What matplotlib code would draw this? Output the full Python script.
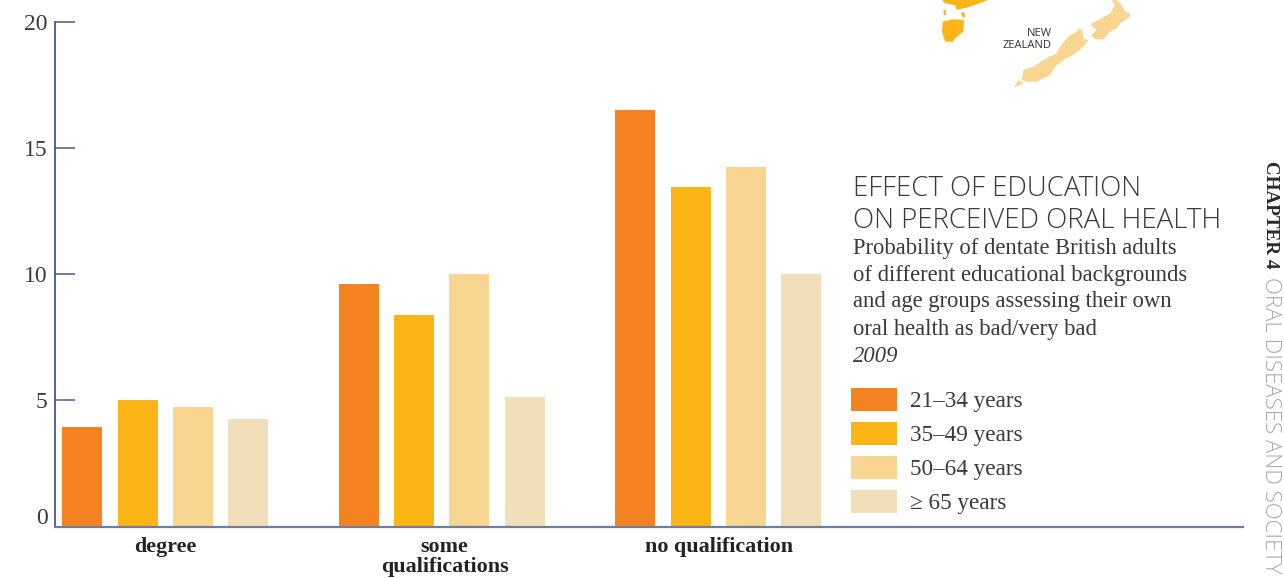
import matplotlib
matplotlib.use("Agg")
import matplotlib.pyplot as plt
from matplotlib.patches import Polygon, Rectangle
from matplotlib.transforms import Affine2D, ScaledTranslation
import numpy as np

W, H = 1284, 578
groups = ["degree", "some\nqualifications", "no qualification"]
age_labels = ["21–34 years", "35–49 years", "50–64 years", "≥ 65 years"]
colors = ["#F58220", "#FBB516", "#F8D590", "#F0DFB8"]
degree = [3.95, 5.0, 4.75, 4.25]
some_q = [9.6, 8.4, 10.0, 5.15]
no_q = [16.5, 13.45, 14.25, 10.0]
yticks = [0, 5, 10, 15, 20]

SERIF = "Liberation Serif"
SANS = "Open Sans"
TXT = "#3a3a3c"
AXC = "#3B4A80"

fig = plt.figure(figsize=(W / 100, H / 100), dpi=100, facecolor="white")
px = Affine2D().scale(1, -1).translate(0, H)

def ftext(x, y, s, **kw):
    kw.setdefault("color", TXT)
    kw.setdefault("va", "center")
    fig.text(x, y, s, transform=px, **kw)

# axes
ax = fig.add_axes([55 / W, 1 - 526.5 / H, (1243 - 55) / W, (526.5 - 22) / H])
ax.set_xlim(-0.3988, 3.8982)
ax.set_ylim(0, 20)
ax.patch.set_alpha(0)
for s in ["top", "right"]:
    ax.spines[s].set_visible(False)
ax.spines["left"].set_color(AXC)
ax.spines["left"].set_linewidth(1.2)
ax.spines["bottom"].set_color("#6F7C9E")
ax.spines["bottom"].set_linewidth(1.6)

series = np.array([degree, some_q, no_q])
step = 0.2
bw = 0.1447
for i, (lab, c) in enumerate(zip(age_labels, colors)):
    ax.bar(np.arange(3) + (i - 1.5) * step, series[:, i], width=bw, color=c, zorder=2)

ax.set_yticks(yticks)
ax.set_yticklabels([str(v) for v in yticks], family=SERIF, fontsize=17, color=TXT)
ax.tick_params(axis="y", direction="in", length=14.5, width=1.4, color="#6F7C9E", pad=5.3)
ax.set_xticks([])
# the zero label sits a little above the baseline in the reference
zero = ax.get_yticklabels()[0]
zero.set_transform(zero.get_transform() + ScaledTranslation(0, 7.6 / 72, fig.dpi_scale_trans))

# category labels under the axis, anchored to the group positions
label_shift = [0, 3, 1]
for i, g in enumerate(groups):
    ax.annotate(g, xy=(i, 0), xycoords=("data", "axes fraction"),
                xytext=(label_shift[i] * 0.72, -7.5), textcoords="offset points",
                ha="center", va="top", family=SERIF, fontweight="bold",
                fontsize=15.8, color="#232323", linespacing=1.0, annotation_clip=False)

# title block
ftext(853, 189, "EFFECT OF EDUCATION", family=SANS, fontsize=19.9, fontweight="light")
ftext(853, 221, "ON PERCEIVED ORAL HEALTH", family=SANS, fontsize=19.9, fontweight="light")
for y, s in zip([248.5, 275, 302, 329], ["Probability of dentate British adults",
                                         "of different educational backgrounds",
                                         "and age groups assessing their own",
                                         "oral health as bad/very bad"]):
    ftext(853, y, s, family=SERIF, fontsize=16.3)
ftext(853, 356, "2009", family=SERIF, fontsize=16.3, style="italic")

# legend
for y, lab, c in zip([399, 433, 467, 501], age_labels, colors):
    fig.add_artist(Rectangle((851, y - 11.5), 46, 23, transform=px, fc=c, ec="none"))
    ftext(910, y + 2, lab, family=SERIF, fontsize=16.7)

# side running head
ftext(1270.5, 161, "CHAPTER 4", family=SERIF, fontsize=13.8, fontweight="bold", rotation=-90,
      color="#2b2b2b", ha="center", va="top")
ftext(1270.5, 277, "ORAL DISEASES AND SOCIETY", family=SANS, fontsize=16, fontweight="light",
      rotation=-90, color="#a8a8a8", ha="center", va="top")

# map decoration
def zoom_poly(pts, color):
    pts = [(920 + x / 3, y / 3) for x, y in pts]
    fig.add_artist(Polygon(pts, closed=True, transform=px, fc=color, ec="none"))

map_or, map_nz = "#FBB516", "#F8D590"
zoom_poly([(68, 65), (100, 58), (132, 60), (130, 95), (105, 115), (100, 125), (75, 125), (66, 95)], map_or)
zoom_poly([(66, 0), (75, 10), (105, 15), (110, 30), (150, 20), (205, 0)], map_or)
zoom_poly([(70, 30), (77, 28), (78, 45), (72, 45)], map_or)
zoom_poly([(123, 38), (132, 36), (137, 50), (128, 52)], map_or)
zoom_poly([(305, 240), (310, 210), (340, 200), (370, 180), (410, 160), (420, 140), (445, 110),
           (470, 95), (475, 85), (487, 90), (490, 115), (505, 120), (490, 140), (460, 165),
           (430, 180), (405, 200), (390, 225), (350, 245), (320, 245)], map_nz)
zoom_poly([(282, 263), (295, 240), (312, 250)], map_nz)
zoom_poly([(512, 72), (545, 55), (570, 40), (585, 15), (575, 0), (590, 0), (605, 15), (615, 35),
           (630, 40), (628, 52), (600, 70), (590, 85), (570, 95), (550, 118), (525, 118),
           (513, 105), (530, 90), (515, 78)], map_nz)
ftext(1052, 34, "NEW", family=SANS, fontsize=8, ha="right", color="#333333")
ftext(1052, 46, "ZEALAND", family=SANS, fontsize=8, ha="right", color="#333333")

fig.savefig("out.png", dpi=100, facecolor="white")
